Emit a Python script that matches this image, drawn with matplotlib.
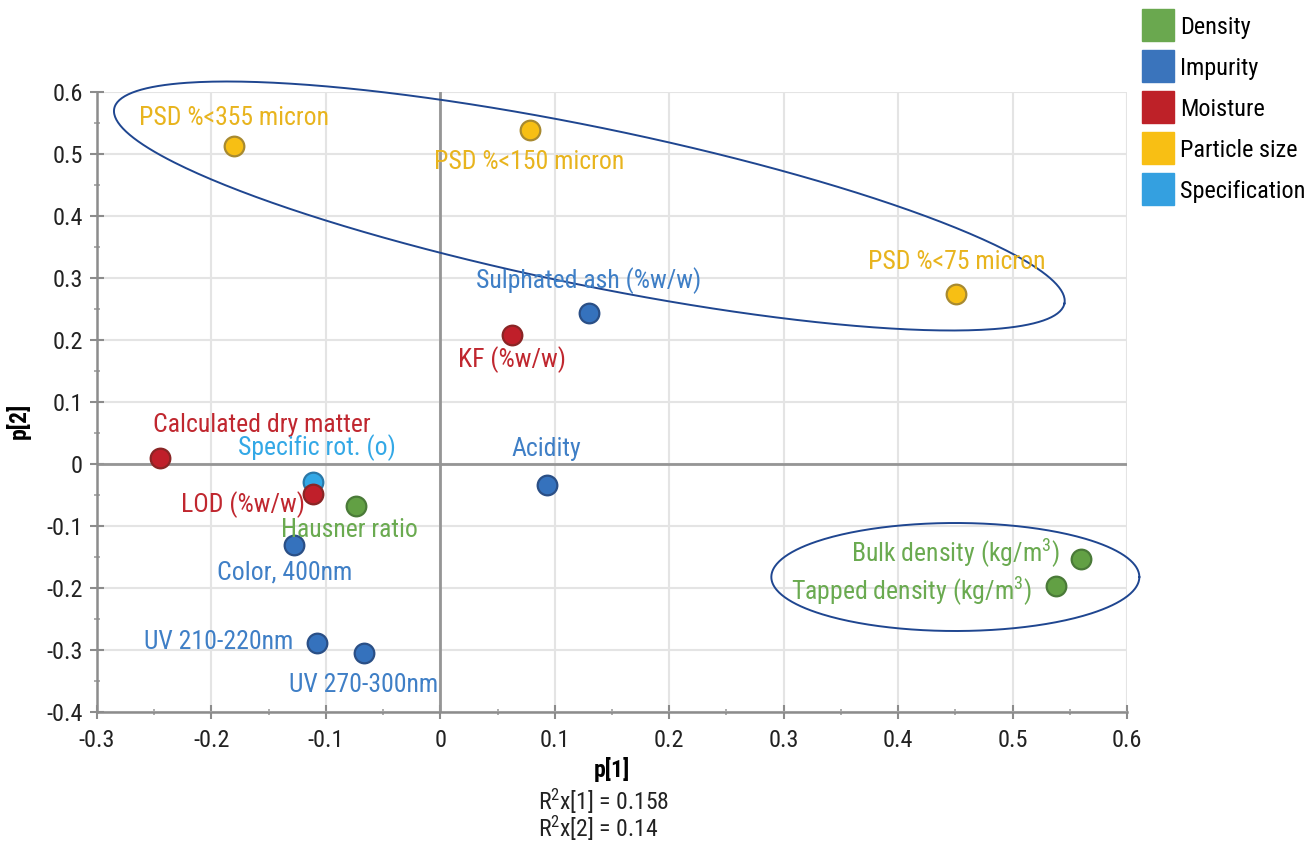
import numpy as np
import matplotlib
matplotlib.use("Agg")
import matplotlib.pyplot as plt
from matplotlib import font_manager as fm
from matplotlib.lines import Line2D

# ---------------- data ----------------
labels = ["PSD %<355 micron", "PSD %<150 micron", "PSD %<75 micron",
          "Sulphated ash (%w/w)", "KF (%w/w)", "Calculated dry matter",
          "Specific rot. (o)", "LOD (%w/w)", "Hausner ratio", "Color, 400nm",
          "UV 210-220nm", "UV 270-300nm", "Acidity",
          "Bulk density (kg/m$^{3}$)", "Tapped density (kg/m$^{3}$)"]
p1 = [-0.180, 0.078, 0.451, 0.130, 0.063, -0.245, -0.111, -0.111, -0.074,
      -0.128, -0.108, -0.067, 0.093, 0.560, 0.538]
p2 = [0.513, 0.539, 0.274, 0.244, 0.208, 0.010, -0.029, -0.048, -0.068,
      -0.131, -0.289, -0.305, -0.034, -0.154, -0.197]
groups = ["Particle size", "Particle size", "Particle size", "Impurity",
          "Moisture", "Moisture", "Specification", "Moisture", "Density",
          "Impurity", "Impurity", "Impurity", "Impurity", "Density", "Density"]
legend_order = ["Density", "Impurity", "Moisture", "Particle size", "Specification"]
r2_text = ["R$^{2}$x[1] = 0.158", "R$^{2}$x[2] = 0.14"]

# ---------------- styles ----------------
fill = {"Density": "#62a044", "Impurity": "#3572bd", "Moisture": "#c01f2a",
        "Particle size": "#f7bf14", "Specification": "#33a8e6"}
edge = {"Density": "#4a7a38", "Impurity": "#2a4f86", "Moisture": "#8a2525",
        "Particle size": "#a88a30", "Specification": "#2a78a8"}
tcol = {"Density": "#6aaa50", "Impurity": "#3f7fc6", "Moisture": "#c0272f",
        "Particle size": "#e8b41e", "Specification": "#33a8e6"}
lcol = {"Density": "#6aa84f", "Impurity": "#3a74bc", "Moisture": "#be2128",
        "Particle size": "#f8bf14", "Specification": "#34a0e0"}
# label offsets in pixels (dx, dy, ha)
offs = [(0, 28, "center"), (0, -32, "center"), (0, 32, "center"),
        (0, 32, "center"), (0, -25, "center"), (-7, 33, "left"),
        (4, 34, "center"), (-8, -11, "right"), (-6, -24, "center"),
        (-9, -27, "center"), (-23, 1, "right"), (0, -32, "center"),
        (0, 36, "center"), (-21, 6, "right"), (-24, -5, "right")]

names = {f.name for f in fm.fontManager.ttflist}
stretch = "normal"
if "Liberation Sans Narrow" in names:
    fam = "Liberation Sans Narrow"
elif "Roboto Condensed" in names:
    fam = "Roboto Condensed"
else:
    fam = "DejaVu Sans"
    stretch = "condensed"
plt.rcParams["font.family"] = [fam, "DejaVu Sans"]
plt.rcParams["font.stretch"] = stretch
plt.rcParams["mathtext.fontset"] = "custom"
plt.rcParams["mathtext.rm"] = fam
plt.rcParams["mathtext.it"] = fam
plt.rcParams["mathtext.default"] = "regular"

W, H = 1311, 842
fig = plt.figure(figsize=(W / 100, H / 100), dpi=100)
ax = fig.add_axes([97 / W, 1 - 712 / H, (1127 - 97) / W, (712 - 92) / H])
ax.set_xlim(-0.3, 0.6)
ax.set_ylim(-0.4, 0.6)
ax.set_xticks(np.round(np.arange(-0.3, 0.61, 0.1), 2))
ax.set_yticks(np.round(np.arange(-0.4, 0.61, 0.1), 2))
ax.set_xticks(np.round(np.arange(-0.25, 0.6, 0.1), 2), minor=True)
ax.set_yticks(np.round(np.arange(-0.35, 0.6, 0.1), 2), minor=True)
fmt = lambda v: "0" if abs(v) < 1e-9 else ("%g" % v)
ax.set_xticklabels([fmt(v) for v in ax.get_xticks()])
ax.set_yticklabels([fmt(v) for v in ax.get_yticks()])
ax.grid(True, which="major", color="#e4e4e4", lw=1.5, zorder=0)
ax.set_axisbelow(True)
for s in ["top", "right"]:
    ax.spines[s].set_visible(False)
for s in ["left", "bottom"]:
    ax.spines[s].set_color("#8c8c8c")
    ax.spines[s].set_linewidth(1.8)
ax.tick_params(which="major", direction="inout", length=10, width=1.5,
               color="#8c8c8c", labelsize=17.5, labelcolor="#222222")
ax.tick_params(axis="x", which="major", pad=7)
ax.tick_params(axis="y", which="major", pad=5)
ax.tick_params(which="minor", direction="inout", length=5, width=1.2,
               color="#a0a0a0")
ax.axhline(0, color="#959595", lw=2, zorder=1)
ax.axvline(0, color="#959595", lw=2, zorder=1)

# ellipses (drawn in pixel-scaled space, then mapped to data)
sx = 0.9 / (1127 - 97)
sy = 1.0 / (712 - 92)
def ellipse(cx, cy, a, b, ang):
    t = np.linspace(0, 2 * np.pi, 400)
    th = np.deg2rad(ang)
    xp = a * np.cos(t) * np.cos(th) - b * np.sin(t) * np.sin(th)
    yp = a * np.cos(t) * np.sin(th) + b * np.sin(t) * np.cos(th)
    ax.plot(cx + xp * sx, cy + yp * sy, color="#1f4690", lw=1.4,
            clip_on=False, zorder=2)
ellipse((589 - 440) * sx, (464 - 206) * sy, 485, 79, -11.6)
ellipse((955 - 440) * sx, (464 - 577) * sy, 184, 54, 0)

for x, y, g, lab, (dx, dy, ha) in zip(p1, p2, groups, labels, offs):
    ax.scatter([x], [y], s=200, color=fill[g], edgecolor=edge[g],
               linewidth=1.6, zorder=4, clip_on=False)
    ax.annotate(lab, (x, y), xytext=(dx, dy), textcoords="offset pixels",
                ha=ha, va="center", color=tcol[g], fontsize=18.5, zorder=5)

ax.set_xlabel("p[1]", fontsize=17, fontweight="bold", labelpad=4)
ax.set_ylabel("p[2]", fontsize=17, fontweight="bold")
ax.yaxis.set_label_coords(-0.064, 0.47)
fig.text(538 / W, 1 - 801 / H, r2_text[0], fontsize=17, va="center",
         ha="left", color="#222222")
fig.text(538 / W, 1 - 828 / H, r2_text[1], fontsize=17, va="center",
         ha="left", color="#222222")

handles = [Line2D([], [], ls="", marker="s", markersize=23,
                  markerfacecolor=lcol[g], markeredgecolor=lcol[g])
           for g in legend_order]
fig.legend(handles, legend_order, loc="upper left",
           bbox_to_anchor=(1139 / W, 1 - 11 / H), frameon=False,
           fontsize=17.5, handlelength=1.2, handletextpad=0.3,
           labelspacing=0.74, borderaxespad=0, borderpad=0.2)

fig.savefig("out.png", dpi=100)
